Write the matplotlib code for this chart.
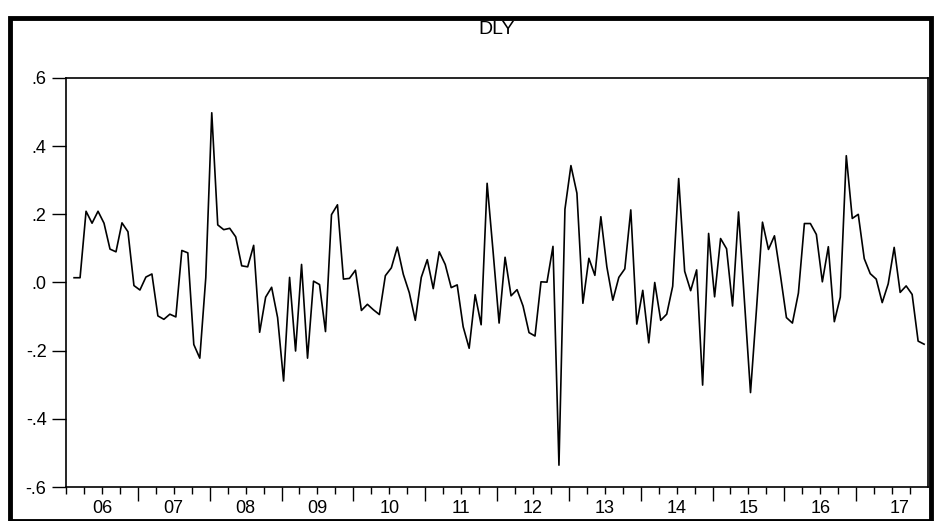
import matplotlib
matplotlib.use("Agg")
import matplotlib.pyplot as plt
from matplotlib.patches import Rectangle
import numpy as np

plt.rcParams['font.family'] = ['Liberation Sans', 'DejaVu Sans']

# monthly DLY, 2006M02 .. 2017M12
start_year = 2006
start_month = 2
dly = [
    0.014, 0.014, 0.209, 0.174, 0.209, 0.174, 0.098, 0.090, 0.175, 0.149, -0.009,
    -0.022, 0.016, 0.025, -0.098, -0.108, -0.093, -0.101, 0.094, 0.087, -0.182, -0.222, 0.014,
    0.498, 0.169, 0.155, 0.159, 0.134, 0.049, 0.046, 0.109, -0.146, -0.043, -0.014, -0.103,
    -0.289, 0.015, -0.201, 0.053, -0.222, 0.004, -0.006, -0.144, 0.199, 0.228, 0.010, 0.012,
    0.036, -0.082, -0.064, -0.080, -0.094, 0.020, 0.043, 0.104, 0.024, -0.030, -0.111, 0.015,
    0.067, -0.018, 0.090, 0.053, -0.015, -0.007, -0.130, -0.193, -0.036, -0.124, 0.291, 0.090,
    -0.119, 0.074, -0.039, -0.021, -0.069, -0.147, -0.157, 0.002, 0.001, 0.106, -0.536, 0.215,
    0.343, 0.262, -0.061, 0.071, 0.021, 0.193, 0.046, -0.052, 0.015, 0.040, 0.213, -0.122,
    -0.023, -0.177, 0.000, -0.111, -0.093, -0.011, 0.305, 0.033, -0.024, 0.037, -0.301, 0.144,
    -0.042, 0.129, 0.099, -0.069, 0.207, -0.058, -0.323, -0.078, 0.177, 0.097, 0.137, 0.021,
    -0.103, -0.119, -0.031, 0.173, 0.173, 0.141, 0.002, 0.105, -0.115, -0.043, 0.372, 0.188,
    0.200, 0.070, 0.026, 0.010, -0.059, -0.004, 0.103, -0.029, -0.010, -0.035, -0.172, -0.181,
]
years = list(range(2006, 2018))
year_labels = ["06", "07", "08", "09", "10", "11", "12", "13", "14", "15", "16", "17"]
y_ticks = [-0.6, -0.4, -0.2, 0.0, 0.2, 0.4, 0.6]
y_labels = ["-.6", "-.4", "-.2", ".0", ".2", ".4", ".6"]

W, H = 935, 521
fig = plt.figure(figsize=(W / 100, H / 100), dpi=100)
ax = fig.add_axes([66 / W, 1 - 487 / H, (928 - 66) / W, (487 - 78) / H])

t = start_year + (start_month - 1 + np.arange(len(dly)) + 0.35) / 12
ax.plot(t, dly, color="black", lw=1.2)

ax.set_xlim(years[0], years[-1] + 1)
ax.set_ylim(-0.6, 0.6)

ax.set_yticks(y_ticks)
ax.set_yticklabels(y_labels, fontsize=13)
ax.tick_params(axis="y", direction="out", length=10, width=1, pad=4)

ax.set_xticks(years[1:])
ax.set_xticklabels([])
ax.set_xticks(np.arange(years[0], years[-1] + 1, 0.25), minor=True)
ax.tick_params(axis="x", which="major", direction="out", length=10, width=1)
ax.tick_params(axis="x", which="minor", direction="out", length=5, width=1)
for y, lab in zip(years, year_labels):
    ax.text(y + 0.5 + (0.1 if y == years[-1] else 0), -0.033, lab,
            transform=ax.get_xaxis_transform(), ha="center", va="top", fontsize=13)

for s in ax.spines.values():
    s.set_linewidth(1.2)

ax.set_title("DLY", fontsize=14, pad=32)

# outer frame of the printed graph
fig.patches.append(Rectangle((10 / W, 0.5 / H), 921 / W, 503 / H, transform=fig.transFigure,
                             fill=False, edgecolor="black", lw=3.5))

fig.savefig("out.png", dpi=100)
